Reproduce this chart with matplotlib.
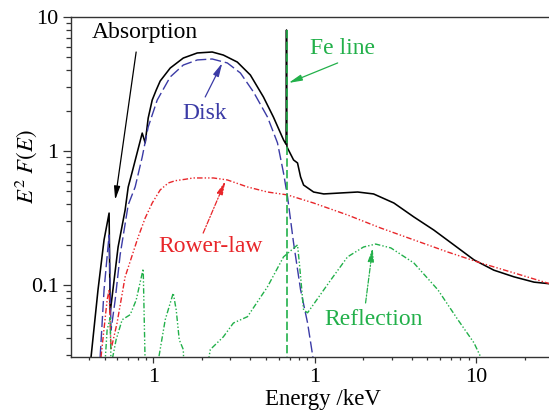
import numpy as np
import matplotlib
matplotlib.use("Agg")
import matplotlib.pyplot as plt

# total model (black), with absorption edge and Fe spike
tot_e = [0.412, 0.455, 0.496, 0.533, 0.541, 0.606, 0.670, 0.700, 0.741, 0.855, 0.892,
         0.931, 0.986, 1.044, 1.105, 1.275, 1.536, 1.876, 2.32, 2.72, 3.32, 4.00, 4.82, 5.56, 6.42,
         6.66, 6.70, 6.74, 6.80, 7.41, 7.84, 8.19, 8.55, 9.86, 11.4, 14.5, 18.5, 23.2,
         31.0, 41.2, 54.8, 73.0, 97.2, 129, 172, 229, 288]
tot_v = [0.029, 0.092, 0.217, 0.344, 0.062, 0.192, 0.363, 0.538, 0.697, 1.36, 1.15,
         1.76, 2.40, 2.85, 3.33, 4.16, 4.94, 5.39, 5.48, 5.20, 4.61, 3.69, 2.53, 1.79, 1.21,
         1.12, 8.0, 1.08, 1.05, 0.857, 0.814, 0.640, 0.557, 0.494, 0.478, 0.486, 0.494, 0.478,
         0.409, 0.322, 0.257, 0.199, 0.154, 0.129, 0.115, 0.105, 0.102]

# disk component
disk_e = [0.469, 0.496, 0.533, 0.548, 0.581, 0.624, 0.700, 0.773, 0.855, 0.931, 1.059,
          1.275, 1.536, 1.876, 2.32, 2.88, 3.47, 4.18, 5.11, 5.89, 6.42, 6.80, 7.41,
          8.19, 9.05, 9.72, 10.2]
disk_v = [0.029, 0.092, 0.236, 0.046, 0.077, 0.168, 0.396, 0.539, 0.902, 1.51, 2.40,
          3.57, 4.38, 4.78, 4.86, 4.54, 3.82, 2.76, 1.79, 1.15, 0.685, 0.454, 0.206,
          0.092, 0.052, 0.030, 0.02]

# power-law component
pl_e = [0.475, 0.518, 0.533, 0.548, 0.597, 0.670, 0.807, 0.892, 0.986, 1.105, 1.24, 1.37,
        1.58, 1.77, 2.36, 2.88, 3.84, 5.11, 6.80, 9.86, 16.0, 25.7, 41.2, 67.0, 107, 172, 288]
pl_v = [0.029, 0.077, 0.092, 0.033, 0.052, 0.115, 0.228, 0.316, 0.409, 0.512, 0.577, 0.600,
        0.615, 0.629, 0.629, 0.608, 0.539, 0.494, 0.470, 0.409, 0.333, 0.266, 0.217, 0.176,
        0.146, 0.123, 0.102]

# reflection component
ref_e = [0.496, 0.518, 0.541, 0.548, 0.589, 0.642, 0.720, 0.784, 0.867, 0.892, 1.029,
         1.187, 1.331, 1.389, 1.45, 1.536, 1.56, 2.10, 2.26, 2.72, 3.14, 3.84, 5.11,
         6.42, 7.84, 8.07, 8.55, 9.05, 12.6, 16.0, 20.1, 23.9, 29.7, 41.2, 58.1, 77.3,
         97.2, 107, 117]
ref_v = [0.02, 0.046, 0.057, 0.025, 0.039, 0.055, 0.060, 0.077, 0.132, 0.025, 0.02,
         0.055, 0.087, 0.065, 0.039, 0.033, 0.02, 0.02, 0.033, 0.041, 0.052, 0.058, 0.097,
         0.162, 0.199, 0.141, 0.065, 0.062, 0.109, 0.162, 0.192, 0.202, 0.189, 0.146, 0.092, 0.055,
         0.037, 0.029, 0.02]

# Fe line
fe_e = [6.70, 6.70]
fe_v = [8.0, 0.02]

c_disk = '#3b3ba6'
c_pl = '#e8262a'
c_ref = '#22b04a'

plt.rcParams['font.family'] = 'serif'
plt.rcParams['font.serif'] = ['Liberation Serif', 'STIXGeneral', 'DejaVu Serif']
plt.rcParams['mathtext.fontset'] = 'stix'

fig = plt.figure(figsize=(5.49, 4.15), dpi=100)
ax = fig.add_axes([71 / 549, 1 - 357 / 415, 1.002 - 71 / 549, 340 / 415])

ax.plot(tot_e, tot_v, color='black', lw=1.15)
ax.plot(disk_e, disk_v, color=c_disk, lw=1.0, dashes=(8, 2.8))
ax.plot(pl_e, pl_v, color=c_pl, lw=1.0, dashes=(4, 1.5, 1, 1.5, 1, 1.5))
ax.plot(ref_e, ref_v, color=c_ref, lw=1.0, dashes=(4, 1.5, 1, 1.5, 1, 1.5))
ax.plot(fe_e, fe_v, color=c_ref, lw=1.2, dashes=(5, 2))

ax.set_xscale('log')
ax.set_yscale('log')
ax.set_xlim(0.3095, 288)
ax.set_ylim(0.029, 10)

ax.xaxis.set_major_locator(matplotlib.ticker.FixedLocator([1, 10, 100]))
ax.xaxis.set_major_formatter(matplotlib.ticker.FixedFormatter(['1', '1', '10']))
xminor = [m * d for d in (0.1, 1, 10, 100) for m in range(2, 10)]
ax.xaxis.set_minor_locator(matplotlib.ticker.FixedLocator(xminor))
ax.xaxis.set_minor_formatter(matplotlib.ticker.NullFormatter())
ax.yaxis.set_major_locator(matplotlib.ticker.FixedLocator([0.1, 1, 10]))
ax.yaxis.set_major_formatter(matplotlib.ticker.FixedFormatter(['0.1', '1', '10']))
yminor = [m * d for d in (0.01, 0.1, 1) for m in range(2, 10)]
ax.yaxis.set_minor_locator(matplotlib.ticker.FixedLocator(yminor))
ax.yaxis.set_minor_formatter(matplotlib.ticker.NullFormatter())

ax.tick_params(axis='both', which='both', direction='out', labelsize=16, width=0.9, colors='#333333',
               labelcolor='black')
ax.tick_params(axis='y', which='major', length=6, pad=3)
ax.tick_params(axis='y', which='minor', length=3.5)
ax.tick_params(axis='x', which='major', length=4, pad=4)
ax.tick_params(axis='x', which='minor', length=2.5)
ax.spines['right'].set_visible(False)
for s in ('left', 'bottom', 'top'):
    ax.spines[s].set_linewidth(1.0)
    ax.spines[s].set_color('#333333')

ax.set_xlabel('Energy /keV', fontsize=16.5)
ax.xaxis.set_label_coords(0.525, -0.095)
ax.set_ylabel(r'$E^2\ F(E)$', fontsize=16.5)
ax.yaxis.set_label_coords(-0.066, 0.56)

def note(text, xy, color, size=17):
    ax.annotate(text, xy=xy, color=color, fontsize=size, ha='center', va='center')

def arrow(tail, tip, color, ls='-'):
    ax.annotate('', xy=tip, xytext=tail,
                arrowprops=dict(arrowstyle='-|>,head_length=0.8,head_width=0.18',
                                color=color, lw=0.9, linestyle=ls, shrinkA=0, shrinkB=0))

note('Absorption', (0.892, 7.6), 'black', 17)
arrow((0.784, 5.48), (0.581, 0.431), 'black')
note('Disk', (2.07, 1.92), c_disk)
arrow((2.10, 2.53), (2.68, 4.54), c_disk)
note('Fe line', (14.9, 5.77), c_ref)
arrow((13.9, 4.54), (6.90, 3.22), c_ref)
note('Rower-law', (2.26, 0.195), c_pl)
arrow((2.04, 0.244), (2.80, 0.597), c_pl, (0, (4, 1.5, 1, 1.5)))
note('Reflection', (23.2, 0.0548), c_ref)
arrow((20.7, 0.0734), (22.9, 0.189), c_ref, (0, (4, 1.5, 1, 1.5)))

fig.savefig('out.png', dpi=100)
